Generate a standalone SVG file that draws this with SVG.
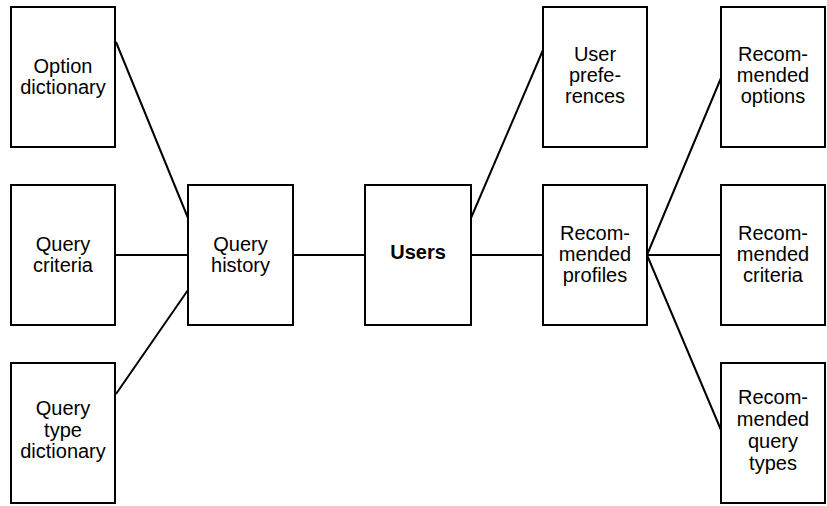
<svg xmlns="http://www.w3.org/2000/svg" width="827" height="506" viewBox="0 0 827 506">
<style>
rect.box{fill:#fff;stroke:#000;stroke-width:2}
.conn line{stroke:#000;stroke-width:2}
text{font-family:"Liberation Sans",Arial,sans-serif;font-size:20px;fill:#000;text-anchor:middle}
text.b{font-weight:bold}
</style>
<rect width="827" height="506" fill="#fff"/>
<g class="conn">
<line x1="116" y1="42" x2="188" y2="218"/>
<line x1="116" y1="255" x2="188" y2="255"/>
<line x1="116" y1="394" x2="188" y2="290"/>
<line x1="294" y1="255" x2="365" y2="255"/>
<line x1="471" y1="218" x2="543" y2="50"/>
<line x1="471" y1="255" x2="543" y2="255"/>
<line x1="647" y1="255" x2="721" y2="78"/>
<line x1="647" y1="255" x2="721" y2="255"/>
<line x1="647" y1="255" x2="721" y2="430"/>
</g>
<g id="option-dictionary"><rect class="box" x="11" y="7" width="104" height="140"/><text x="63" y="73">Option</text><text x="63" y="94">dictionary</text></g>
<g id="query-criteria"><rect class="box" x="11" y="185" width="104" height="140"/><text x="63" y="251">Query</text><text x="63" y="272">criteria</text></g>
<g id="query-type-dictionary"><rect class="box" x="11" y="363" width="104" height="140"/><text x="63" y="415">Query</text><text x="63" y="437">type</text><text x="63" y="458">dictionary</text></g>
<g id="query-history"><rect class="box" x="188" y="185" width="105" height="140"/><text x="240.5" y="251">Query</text><text x="240.5" y="272">history</text></g>
<g id="users"><rect class="box" x="365" y="185" width="106" height="140"/><text class="b" x="418" y="259">Users</text></g>
<g id="user-preferences"><rect class="box" x="543" y="7" width="104" height="140"/><text x="595" y="61">User</text><text x="595" y="82">prefe-</text><text x="595" y="103">rences</text></g>
<g id="recommended-profiles"><rect class="box" x="543" y="185" width="104" height="140"/><text x="595" y="240">Recom-</text><text x="595" y="261">mended</text><text x="595" y="282">profiles</text></g>
<g id="recommended-options"><rect class="box" x="721" y="7" width="104" height="140"/><text x="773" y="61">Recom-</text><text x="773" y="82">mended</text><text x="773" y="103">options</text></g>
<g id="recommended-criteria"><rect class="box" x="721" y="185" width="104" height="140"/><text x="773" y="240">Recom-</text><text x="773" y="261">mended</text><text x="773" y="282">criteria</text></g>
<g id="recommended-query-types"><rect class="box" x="721" y="363" width="104" height="140"/><text x="773" y="404">Recom-</text><text x="773" y="426">mended</text><text x="773" y="448">query</text><text x="773" y="470">types</text></g>
</svg>
